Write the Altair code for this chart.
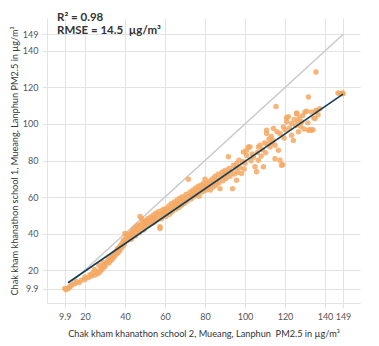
import altair as alt
import pandas as pd

# Scatter points (x = school 2, y = school 1), µg/m³
x_vals = [
    9.9, 10.5, 11.7, 12.5, 13.5, 15, 15.8, 17, 18.2, 20, 20, 21.7,
    22.5, 23.4, 24, 25, 25.8, 26.5, 27.5, 28, 28.6, 29.3, 30, 30.4, 29, 27, 24.7,
    31, 31.6, 32, 32.5, 33, 33.3, 33.8, 34.2, 34.7, 35, 35.5, 35.9, 36.2, 36.6, 37, 37.3, 37.8, 38.1, 38.5, 38.9, 39.2, 39.6, 40, 40, 40.3,
    40.8, 41.2, 41.5, 42, 42.5, 42.8, 43.2, 43.6, 44, 44.3, 44.8, 45.2, 45.5, 46, 46.3, 46.8, 47.2, 47.5, 47.8, 48.3, 48.5, 49, 49.4, 49.8, 50.2,
    50.6, 51, 51.5, 52, 52.4, 52.9, 53.3, 53.7, 54.2, 54.6, 55, 55.5, 56, 56.4, 56.9, 57.5, 57.5, 57.8, 58.2, 58.7, 59.1, 59.6,
    60, 60.5, 61, 61.4, 61.9, 62.3, 62.8, 63.2, 63.7, 64.1, 64.6, 65, 65.5, 66, 66.4, 66.9, 67.3, 67.8, 68.3, 68.8, 69.2, 69.7,
    70.2, 70.6, 71.1, 71.7, 72, 72.5, 73, 73.4, 73.9, 74.3, 74.8, 75.2, 75.7, 76.1, 76.6, 77, 77.5, 78, 78.4, 79, 79.2, 79.6,
    80, 80.4, 80.9, 81.3, 81.8, 82.3, 82.7, 83.2, 83.6, 84.1, 84.6, 85, 85.5, 86, 86.5, 87, 87.5, 88, 88.5, 89, 89.5,
    90, 90.5, 91, 91.7, 92, 92.5, 93, 93.8, 94.2, 94.7, 95.3, 95.8, 95.8, 96.4, 97, 97.5, 98.3, 98.9, 99.2, 99.6,
    100, 100.8, 100.8, 101.7, 102.5, 103, 103.6, 104.2, 105, 105.8, 106.2, 106.7, 106.7, 107.5, 108.1, 108.7, 109.2, 109.8,
    110.3, 110.8, 110.8, 111.5, 112, 112.5, 113.1, 113.6, 114, 114.2, 115, 115, 115.5, 116, 116.7, 117.5, 117.5, 118.3, 118.8, 119.2, 119.5, 120,
    120.8, 120.8, 121.7, 122.2, 123.3, 123.3, 124.2, 124.6, 125.3, 125.8, 125.8, 126.4, 126.7, 127.2, 127.8, 128.3, 128.9, 129.5, 130, 130.8,
    131.4, 131.7, 131.7, 132.5, 133.3, 133.3, 134, 134.5, 135, 135.5, 135.5, 135.8, 136.5, 137.4, 146.5, 147.5, 148.8, 149,
]
y_vals = [
    9.9, 9.2, 10, 10.9, 11.8, 12.6, 13.6, 13.2, 14.5, 14.9, 16.2, 16,
    17.5, 16.8, 18.6, 17.3, 19.4, 18.2, 19.1, 21.2, 20.3, 22.4, 21.8, 23.6, 24.2, 22.7, 20.4,
    24.5, 26, 23.9, 25.3, 27.2, 25.5, 28.1, 26.6, 29.4, 27.8, 30.2, 28.9, 31.5, 29.7, 32.4, 30.6, 33.5, 31.8, 34.7, 33, 36.3, 34.1, 40, 35.6, 37.2,
    38.6, 36.4, 39.5, 37.8, 38.2, 40.3, 36.9, 41.2, 39.4, 42.5, 40.1, 38.7, 43.6, 41.6, 44.4, 42.3, 40.4, 49.3, 45.1, 48.2, 43.5, 46.3, 42.1, 44.8, 47.2,
    43.9, 45.8, 48.3, 44.7, 46.9, 49.1, 45.5, 47.8, 50.2, 46.2, 48.7, 51.3, 47.4, 49.6, 52.1, 42.8, 43.8, 50.4, 48.1, 52.8, 50.7, 53.5,
    51.2, 49.4, 53.8, 51.9, 55.1, 50.6, 53.2, 56.4, 52.1, 54.7, 57.3, 55.8, 53.4, 58.2, 56.1, 54.3, 59.4, 57.2, 55.5, 60.1, 58, 56.6,
    59.3, 61.5, 57.8, 69.7, 60.4, 62.6, 58.9, 61.3, 63.7, 60.2, 62.4, 64.8, 61.1, 63.5, 65.9, 60.5, 64.2, 66.5, 62.8, 65.2, 67.4, 63.4,
    69.7, 66.1, 64, 67.5, 65.2, 68.6, 63.9, 66.8, 69.9, 65.5, 68.1, 71.3, 66.6, 69.4, 72.5, 67.8, 64.6, 70.7, 73.6, 68.9, 71.8,
    74.5, 70.2, 72.9, 82, 75.6, 71.4, 74.1, 64.6, 77.3, 72.6, 75.8, 78.4, 69.2, 73.5, 80.2, 76.1, 72.9, 79.3, 84.7, 75.4,
    78.5, 82.8, 85.6, 87.4, 87.4, 79.9, 83.5, 81.9, 76.6, 73.8, 84.4, 80.1, 87.4, 88.3, 82.5, 85.9, 76.6, 89.6,
    84.2, 94.8, 96.5, 88.7, 91.6, 87.4, 93.2, 89.9, 91, 97.5, 88.3, 81, 109.6, 95.7, 85.6, 94.8, 80.1, 77.4, 77.7, 98.4, 92.3, 96.8,
    101.2, 103.4, 103.9, 97.6, 100.3, 93.8, 91, 102.4, 99.1, 105.6, 106, 101.5, 95.7, 103.6, 98.8, 101.2, 104.7, 97.2, 106.5, 107,
    100.6, 96.5, 114.7, 96.9, 96.5, 106.5, 96.9, 103.2, 103, 128.4, 107.4, 107.4, 105.1, 108.3, 116.9, 116.6, 116.9, 116.6,
]

# Reference lines
identity_x = [9.9, 149]
identity_y = [9.9, 149]
fit_x = [11.5, 149]
fit_y = [13.1, 116.3]

tick_values = [9.9, 20, 40, 60, 80, 100, 120, 140, 149]
annotation_lines = ["R² = 0.98", "RMSE = 14.5\u00a0\u00a0µg/m³"]

FONT = "Lato"
x_title = "Chak kham khanathon school 2, Mueang, Lanphun\u00a0\u00a0PM2.5 in µg/m³"
y_title = "Chak kham khanathon school 1, Mueang, Lanphun PM2.5 in µg/m³"

pts = pd.DataFrame({"x": x_vals, "y": y_vals})
ident = pd.DataFrame({"x": identity_x, "y": identity_y})
fit = pd.DataFrame({"x": fit_x, "y": fit_y})

xscale = alt.Scale(domain=[1, 157.5], nice=False, zero=False)
yscale = alt.Scale(domain=[2, 158], nice=False, zero=False)

common_axis = dict(
    values=tick_values,
    tickCount=30,
    labelExpr="'' + datum.value",
    labelOverlap=False,
    grid=True,
    gridColor="#e3e3e3",
    gridWidth=1,
    domainColor="#e3e3e3",
    tickColor="#e3e3e3",
    tickSize=5,
    labelPadding=4,
    labelFont=FONT,
    labelFontSize=9,
    labelColor="#555555",
    titleFont=FONT,
    titleFontSize=9.2,
    titleFontWeight="normal",
    titleColor="#333333",
)

xaxis = alt.Axis(title=x_title, titlePadding=8, **common_axis)
yaxis = alt.Axis(
    title=y_title,
    titleX=-33,
    titleY=142.5,
    titleAngle=270,
    titleAlign="center",
    titleBaseline="middle",
    **common_axis,
)

identity_layer = alt.Chart(ident).mark_line(color="#c9c9c9", strokeWidth=1.5).encode(
    x=alt.X("x:Q", scale=xscale, axis=xaxis),
    y=alt.Y("y:Q", scale=yscale, axis=yaxis),
)

points_layer = alt.Chart(pts).mark_circle(color="#F5A863", opacity=0.85, size=30).encode(
    x=alt.X("x:Q", scale=xscale),
    y=alt.Y("y:Q", scale=yscale),
)

fit_layer = alt.Chart(fit).mark_line(color="#123f57", strokeWidth=1.6).encode(
    x=alt.X("x:Q", scale=xscale),
    y=alt.Y("y:Q", scale=yscale),
)

text0 = alt.Chart(pd.DataFrame({"label": [annotation_lines[0]]})).mark_text(
    align="left", baseline="middle", font=FONT, fontSize=11.5, fontWeight="bold", color="#333333"
).encode(x=alt.value(10), y=alt.value(0), text="label:N")

text1 = alt.Chart(pd.DataFrame({"label": [annotation_lines[1]]})).mark_text(
    align="left", baseline="middle", font=FONT, fontSize=11.5, fontWeight="bold", color="#333333"
).encode(x=alt.value(10), y=alt.value(12.5), text="label:N")

chart = alt.layer(identity_layer, points_layer, fit_layer, text0, text1).properties(
    width=313,
    height=285,
    autosize=alt.AutoSizeParams(type="none"),
    padding={"left": 47, "top": 18, "right": 19, "bottom": 43},
    background="white",
).configure_view(stroke=None)

chart.save("out.html", embed_options={"renderer": "svg", "actions": False})
